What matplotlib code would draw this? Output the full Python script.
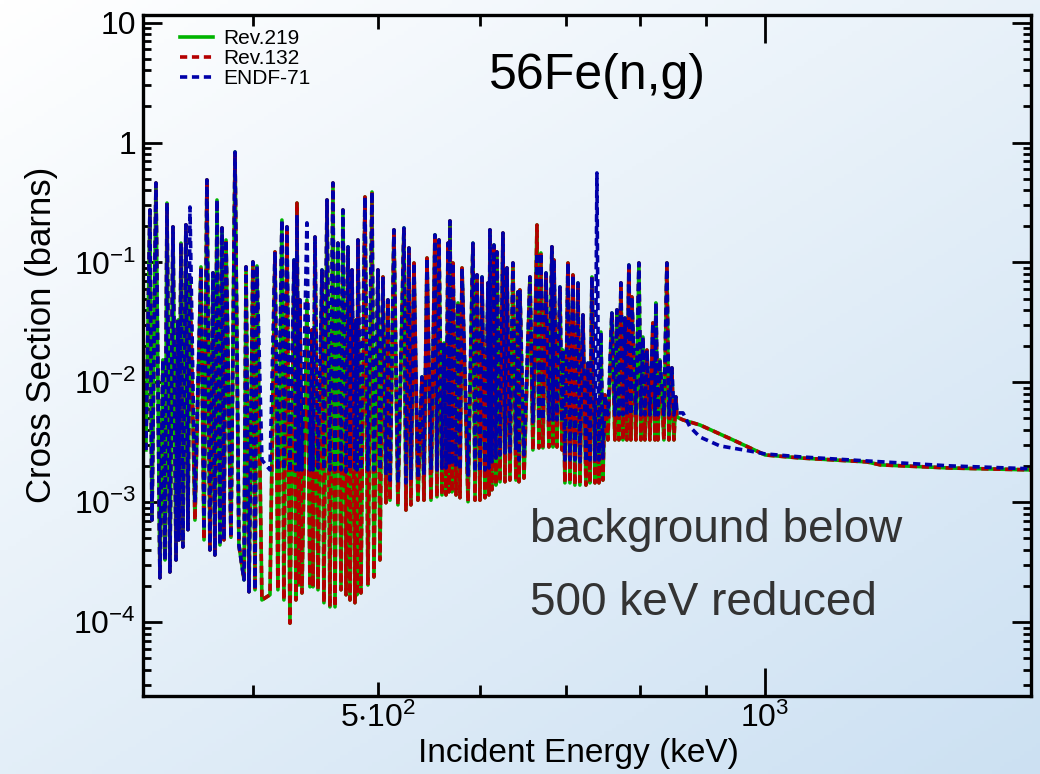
import numpy as np
import matplotlib
matplotlib.use("Agg")
import matplotlib.pyplot as plt
from matplotlib.ticker import LogLocator, NullFormatter

plt.rcParams['font.family'] = ['Liberation Sans', 'DejaVu Sans']
plt.rcParams['mathtext.fontset'] = 'custom'
plt.rcParams['mathtext.rm'] = 'Liberation Sans'
plt.rcParams['mathtext.it'] = 'Liberation Sans:italic'
plt.rcParams['mathtext.bf'] = 'Liberation Sans:bold'

# resolved resonance region, same energy points for both evaluations (keV)
energia = [
    330.0, 332.4, 333.6, 336.0, 338.4, 340.2, 341.5, 342.7, 344.5, 346.4,
    348.3, 349.5, 350.1, 351.4, 352.6, 354.5, 355.8, 357.1, 360.3, 364.2,
    366.2, 368.1, 370.1, 372.1, 373.4, 374.8, 376.8, 378.2, 379.5, 380.9,
    384.3, 387.1, 389.8, 393.4, 394.8, 396.9, 399.7, 401.2, 402.6, 406.2,
    412.1, 415.8, 418.0, 421.0, 422.5, 424.8, 427.1, 430.2, 431.7, 432.5,
    434.0, 434.8, 436.4, 440.3, 442.7, 444.3, 445.1, 446.7, 449.1, 452.3,
    453.9, 456.4, 458.8, 461.3, 463.0, 465.4, 468.0, 469.6, 472.2, 473.9,
    475.6, 477.3, 479.8, 480.7, 481.6, 482.4, 485.0, 488.5, 491.1, 494.7,
    496.4, 500.0, 501.8, 504.5, 507.2, 509.0, 510.9, 514.5, 518.2, 523.8,
    525.7, 528.5, 530.4, 533.3, 537.1, 541.0, 542.9, 545.9, 549.8, 553.7,
    555.7, 557.7, 560.7, 562.7, 564.8, 566.8, 567.8, 568.8, 570.9, 571.9,
    575.0, 577.0, 579.1, 581.2, 587.5, 592.7, 594.9, 597.0, 600.2, 602.4,
    605.6, 608.9, 609.9, 611.0, 613.2, 615.4, 617.6, 618.7, 622.1, 625.4,
    627.7, 629.9, 633.3, 636.7, 640.1, 642.4, 643.6, 644.7, 649.4, 656.4,
    659.9, 664.7, 667.0, 669.4, 671.8, 675.5, 679.1, 682.7, 684.0, 685.2,
    688.9, 692.6, 695.1, 696.3, 698.8, 702.6, 705.1, 708.9, 711.4, 715.3,
    717.8, 721.7, 725.6, 728.2, 730.8, 733.4, 737.4, 740.0, 742.7, 745.3,
    748.0, 750.7, 754.7, 760.1, 764.2, 767.0, 769.7, 772.5, 775.3, 778.0,
    780.8, 783.6, 786.4, 787.8, 793.5, 797.8, 800.6, 803.5, 806.4, 809.3,
    813.6, 818.0, 821.0, 822.4, 825.4, 828.3, 834.3, 838.8, 841.8, 846.3,
    849.4, 852.4, 853.9,
]

# Rev.219 / Rev.132 (barns)
xs_rev = [
    2.73e-3, 0.274, 7.1e-4, 0.46, 2.34e-4, 0.0154, 3.3e-4, 0.313, 2.62e-4, 0.198,
    3.3e-4, 0.0331, 4.85e-4, 0.145, 4.24e-4, 0.206, 5.9e-4, 0.0757, 7.1e-4, 0.0918,
    4.85e-4, 0.488, 4.0e-4, 0.0818, 3.63e-4, 0.332, 4.4e-4, 0.194, 4.85e-4, 0.154,
    5.1e-4, 0.835, 4.4e-4, 2.25e-4, 0.0918, 1.79e-4, 0.101, 1.86e-4, 0.0935, 1.53e-4,
    1.69e-4, 0.1224, 1.86e-4, 0.226, 1.53e-4, 0.198, 9.8e-5, 0.105, 1.53e-4, 0.313,
    2.04e-4, 0.0487, 1.75e-4, 0.0487, 1.97e-4, 0.0274, 1.97e-4, 0.163, 1.86e-4, 0.0866,
    1.45e-4, 0.332, 1.34e-4, 0.46, 1.34e-4, 0.145, 1.86e-4, 0.274, 1.69e-4, 0.135,
    1.53e-4, 0.0866, 1.45e-4, 0.0331, 1.69e-4, 0.154, 1.75e-4, 0.352, 2.04e-4, 0.387,
    2.38e-4, 0.0866, 3.3e-4, 0.0757, 9.9e-4, 0.0487, 1.04e-3, 0.187, 9.5e-4, 0.194,
    8.6e-4, 0.132, 9.5e-4, 0.099, 1.04e-3, 0.0111, 1.04e-3, 0.109, 1.04e-3, 0.170,
    1.11e-3, 0.154, 1.15e-3, 0.0213, 1.15e-3, 0.145, 1.22e-3, 0.222, 1.22e-3, 0.099,
    1.15e-3, 0.046, 1.09e-3, 0.090, 1.01e-3, 0.145, 1.04e-3, 0.0787, 1.04e-3, 0.0757,
    1.09e-3, 0.0675, 1.15e-3, 0.187, 1.27e-3, 0.140, 1.39e-3, 0.1224, 1.48e-3, 0.176,
    1.48e-3, 0.090, 1.53e-3, 0.099, 1.53e-3, 0.0567, 1.48e-3, 0.059, 1.59e-3, 0.0757,
    2.73e-3, 0.2055, 2.84e-3, 0.12, 2.84e-3, 0.0818, 2.89e-3, 0.135, 2.89e-3, 0.105,
    2.89e-3, 0.0625, 2.73e-3, 0.0186, 1.45e-3, 0.099, 1.45e-3, 0.0787, 1.39e-3, 0.0675,
    1.39e-3, 0.0365, 1.39e-3, 0.0145, 1.45e-3, 0.0757, 1.45e-3, 0.00713, 1.45e-3, 0.0263,
    1.53e-3, 0.00785, 3.31e-3, 0.0379, 3.31e-3, 0.0402, 3.31e-3, 0.0675, 3.31e-3, 0.0344,
    3.31e-3, 0.0953, 3.31e-3, 0.0516, 3.31e-3, 0.099, 3.31e-3, 0.0239, 3.31e-3, 0.0186,
    3.31e-3, 0.0313, 3.31e-3, 0.046, 3.31e-3, 0.0154, 3.31e-3, 0.099, 3.31e-3, 0.0132,
    3.31e-3, 0.00755, 5.14e-3,
]

# ENDF-71 (barns)
xs_endf = [
    2.73e-3, 0.274, 7.1e-4, 0.46, 2.34e-4, 0.0154, 3.3e-4, 0.313, 2.62e-4, 0.198,
    3.3e-4, 0.0331, 4.85e-4, 0.145, 4.24e-4, 0.206, 5.9e-4, 0.29, 9.9e-4, 0.0918,
    5.9e-4, 0.488, 4.0e-4, 0.0818, 3.63e-4, 0.332, 4.4e-4, 0.194, 4.85e-4, 0.154,
    5.1e-4, 0.835, 4.4e-4, 2.25e-4, 0.0918, 1.79e-4, 0.101, 1.86e-4, 0.0935, 2.25e-3,
    1.86e-3, 0.1224, 1.86e-3, 0.226, 1.86e-3, 0.198, 1.79e-3, 0.105, 1.86e-3, 0.249,
    1.86e-3, 0.0487, 1.86e-3, 0.214, 1.86e-3, 0.0274, 1.86e-3, 0.163, 1.93e-3, 0.0866,
    1.86e-3, 0.332, 1.86e-3, 0.46, 1.86e-3, 0.145, 1.86e-3, 0.274, 1.79e-3, 0.135,
    1.86e-3, 0.0866, 1.93e-3, 0.0331, 1.86e-3, 0.154, 1.86e-3, 0.352, 1.86e-3, 0.387,
    1.86e-3, 0.0866, 1.86e-3, 0.0757, 1.69e-3, 0.0487, 1.53e-3, 0.187, 1.45e-3, 0.194,
    1.45e-3, 0.132, 1.53e-3, 0.099, 1.59e-3, 0.0111, 1.69e-3, 0.109, 1.86e-3, 0.170,
    1.86e-3, 0.154, 1.93e-3, 0.0213, 1.93e-3, 0.145, 2.05e-3, 0.222, 2.05e-3, 0.099,
    1.97e-3, 0.046, 1.86e-3, 0.090, 1.69e-3, 0.145, 1.79e-3, 0.0787, 1.79e-3, 0.0757,
    1.86e-3, 0.0675, 1.93e-3, 0.187, 2.17e-3, 0.140, 2.34e-3, 0.1224, 2.48e-3, 0.176,
    2.58e-3, 0.090, 2.63e-3, 0.099, 2.73e-3, 0.0567, 2.25e-3, 0.059, 2.48e-3, 0.0757,
    4.67e-3, 0.12, 4.86e-3, 0.12, 4.86e-3, 0.0818, 4.86e-3, 0.135, 4.86e-3, 0.105,
    4.86e-3, 0.0625, 4.67e-3, 0.0186, 2.25e-3, 0.099, 2.25e-3, 0.0787, 2.25e-3, 0.0675,
    2.17e-3, 0.0365, 2.17e-3, 0.0145, 2.25e-3, 0.0757, 2.25e-3, 0.558, 2.25e-3, 0.0263,
    2.34e-3, 0.00785, 5.35e-3, 0.0379, 5.35e-3, 0.0402, 5.35e-3, 0.0675, 5.35e-3, 0.0344,
    5.35e-3, 0.0953, 5.35e-3, 0.0516, 5.35e-3, 0.099, 5.35e-3, 0.0239, 5.35e-3, 0.0186,
    5.35e-3, 0.0313, 5.35e-3, 0.046, 5.35e-3, 0.0154, 5.35e-3, 0.099, 5.35e-3, 0.0132,
    5.35e-3, 0.00755, 5.56e-3,
]

# smooth part above the resonances
e_cauda_rev = [863.3, 889.9, 944.1, 1000.0, 1065.0, 1200.0, 1229.0, 1393.0, 1610.0]
xs_cauda_rev = [4.86e-3, 4.41e-3, 3.31e-3, 2.48e-3, 2.34e-3, 2.17e-3, 2.05e-3, 1.93e-3, 1.86e-3]
e_cauda_endf = [863.3, 874.1, 889.9, 922.3, 968.1, 1000.0, 1065.0, 1200.0, 1393.0, 1610.0]
xs_cauda_endf = [5.56e-3, 4.25e-3, 3.50e-3, 2.95e-3, 2.70e-3, 2.53e-3, 2.39e-3, 2.21e-3, 2.01e-3, 1.90e-3]

e_rev = energia + e_cauda_rev
s_rev = xs_rev + xs_cauda_rev
e_endf = energia + e_cauda_endf
s_endf = xs_endf + xs_cauda_endf

fig = plt.figure(figsize=(10.4, 7.74), dpi=100)

# white -> light blue background
bg = fig.add_axes([0, 0, 1, 1])
u = np.linspace(0, 1, 260)[None, :]
v = np.linspace(0, 1, 200)[:, None]
t = np.clip(0.55 * v + 0.45 * u, 0, 1)[..., None]
img = np.array([1.0, 1.0, 1.0]) * (1 - t) + np.array([0.80, 0.88, 0.95]) * t
bg.imshow(img, aspect='auto', extent=[0, 1, 0, 1])
bg.axis('off')

ax = fig.add_axes([0.1375, 0.1008, 0.8538, 0.8802])
ax.patch.set_alpha(0)

ax.plot(e_rev, s_rev, color='#00b400', lw=2.6, label='Rev.219')
ax.plot(e_rev, s_rev, color='#b40000', lw=2.6, ls=(0, (2.0, 1.3)), label='Rev.132')
ax.plot(e_endf, s_endf, color='#0000a8', lw=2.6, ls=(0, (2.0, 1.3)), label='ENDF-71')

ax.set_xscale('log')
ax.set_yscale('log')
ax.set_xlim(328.3, 1609.7)
ax.set_ylim(2.42e-5, 11.66)

ax.set_xticks([500, 1000], labels=[r'$\mathregular{5{\cdot}10^2}$', r'$\mathregular{10^3}$'])
ax.set_xticks([400, 600, 700, 800, 900], minor=True)
ax.xaxis.set_minor_formatter(NullFormatter())

ax.set_yticks([1e-4, 1e-3, 1e-2, 1e-1, 1, 10],
              labels=[r'$\mathregular{10^{-4}}$', r'$\mathregular{10^{-3}}$',
                      r'$\mathregular{10^{-2}}$', r'$\mathregular{10^{-1}}$', '1', '10'])
ax.yaxis.set_minor_locator(LogLocator(base=10, subs=np.arange(2, 10), numticks=20))
ax.yaxis.set_minor_formatter(NullFormatter())

ax.tick_params(which='both', direction='in', top=True, right=True, width=2,
               labelsize=23, pad=5)
ax.tick_params(axis='y', which='major', length=14)
ax.tick_params(axis='y', which='minor', length=6)
ax.tick_params(axis='x', which='minor', length=8)
for tk, L in zip(ax.xaxis.get_major_ticks(), [10, 20]):
    tk.tick1line.set_markersize(L)
    tk.tick2line.set_markersize(L)

for s in ax.spines.values():
    s.set_linewidth(2.4)

ax.legend(loc='upper left', bbox_to_anchor=(0.025, 1.0), frameon=False, fontsize=15,
          handlelength=1.6, labelspacing=0.05, handletextpad=0.5, borderaxespad=0.3)

fig.text(0.574, 0.902, '56Fe(n,g)', fontsize=36, ha='center', va='center')
fig.text(0.5096, 0.3152, 'background below', fontsize=33, color='#333333', va='center')
fig.text(0.5096, 0.221, '500 keV reduced', fontsize=33, color='#333333', va='center')

fig.text(0.040, 0.567, 'Cross Section (barns)', rotation=90, fontsize=25,
         ha='center', va='center')
fig.text(0.556, 0.026, 'Incident Energy (keV)', fontsize=24, ha='center', va='center')

fig.savefig('out.png', dpi=100)
